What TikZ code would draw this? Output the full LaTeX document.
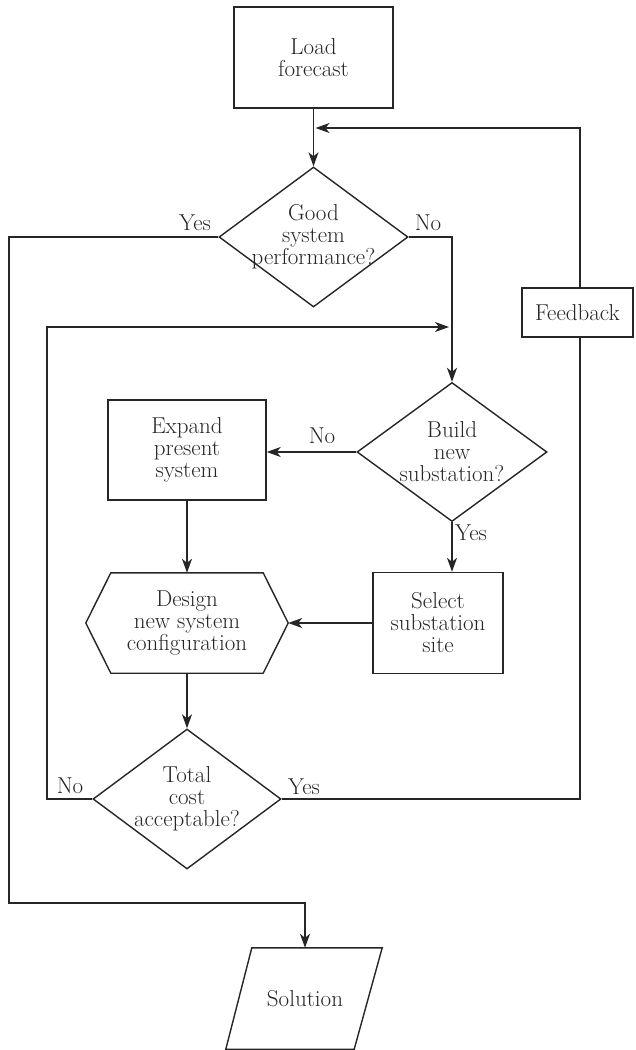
\documentclass[tikz,border=0pt]{standalone}
\usetikzlibrary{shapes.geometric,arrows.meta,calc}
\begin{document}
\begin{tikzpicture}[x=1pt,y=-1pt,
  every node/.style={font=\fontsize{23}{22}\selectfont, text=black!85},
  ln/.style={line width=1.4pt, draw=black!85},
  arr/.style={ln, -{Stealth[length=14pt,width=10pt,inset=4pt]}},
  boxnode/.style={ln, draw, rectangle, inner sep=0pt, align=center},
  dia/.style={ln, draw, diamond, inner sep=0pt},
  dlab/.style={align=center, inner sep=0pt},
  lab/.style={inner sep=0pt}
]
\useasboundingbox (0,0) rectangle (635,1050);

% nodes
\node[boxnode, minimum width=159, minimum height=101] (load) at (313.5,57.5) {Load\\forecast};
\node[dia, minimum width=189, minimum height=140,
      label={[dlab]center:Good\\system\\performance?}] (d1) at (313.5,237) {};
\node[boxnode, minimum width=111, minimum height=49] (fb) at (577.5,312.5) {Feedback};
\node[dia, minimum width=190, minimum height=139,
      label={[dlab]center:Build\\new\\substation?}] (d2) at (452,452) {};
\node[boxnode, minimum width=158, minimum height=100] (expand) at (187,450) {Expand\\present\\system};
\node[boxnode, minimum width=130, minimum height=101] (select) at (438,623) {Select\\substation\\site};
\node[inner sep=0pt, minimum width=202, minimum height=100, align=center] (hex) at (187,623) {Design\\new system\\configuration};
\draw[ln] (hex.west) -- ($(hex.north west)+(25,0)$) -- ($(hex.north east)+(-25,0)$) -- (hex.east)
  -- ($(hex.south east)+(-25,0)$) -- ($(hex.south west)+(25,0)$) -- cycle;
\node[dia, minimum width=188, minimum height=140,
      label={[dlab]center:Total\\cost\\acceptable?}] (d3) at (187,799) {};
\node[inner sep=0pt, minimum width=130, minimum height=101] (sol) at (305,998.5) {Solution};
\draw[ln] ($(sol.north west)+(12,0)$) -- ($(sol.north east)+(12,0)$) -- ($(sol.south east)+(-16,0)$)
  -- ($(sol.south west)+(-14,0)$) -- cycle;

% coordinates
\coordinate (fbx) at (580,128);
\coordinate (join1) at (315.5,128);
\coordinate (c1) at (9,237);
\coordinate (c2) at (9,903);
\coordinate (c3) at (47,799);
\coordinate (c4) at (47,327);
\coordinate (join2) at (449,327);
\coordinate (c5) at (580,799);

% connectors
\draw[arr] (load.south) -- (d1.north);
\draw[arr] (fb.north -| fbx) -- (fbx) -- (join1);
\draw[arr] (d1.west) -- (c1) -- (c2) -| (sol.north);
\draw[arr] (d1.east) -| (d2.north);
\draw[arr] (d3.west) -- (c3) -- (c4) -- (join2);
\draw[arr] (d2.west) -- (d2.west -| expand.east);
\draw[arr] (d2.south) -- (d2.south |- select.north);
\draw[arr] (select.west) -- (hex.east);
\draw[arr] (expand.south) -- (hex.north);
\draw[arr] (hex.south) -- (d3.north);
\draw[ln] (d3.east) -- (c5) -- (fb.south -| c5);

% labels
\node[lab] (y1) at (195,223) {Yes};
\node[lab] (n1) at (428,223) {No};
\node[lab] (n2) at (322,436) {No};
\node[lab] (y2) at (471,533) {Yes};
\node[lab] (n3) at (70,786) {No};
\node[lab] (y3) at (304,787) {Yes};
\end{tikzpicture}
\end{document}
